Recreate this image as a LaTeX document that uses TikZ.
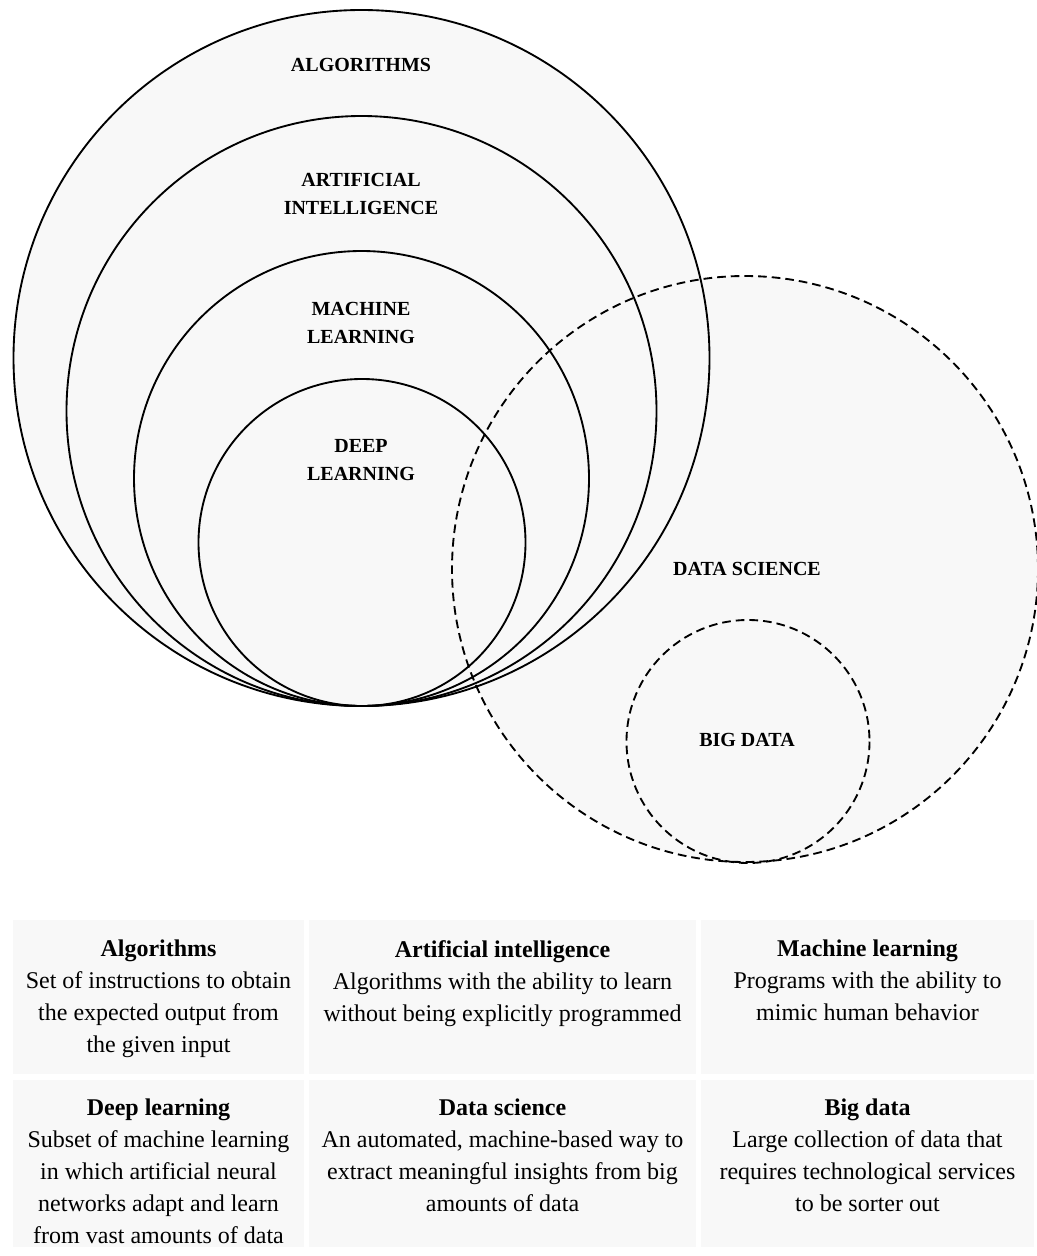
\documentclass[tikz,border=0pt]{standalone}
\usepackage{fontspec}
\setmainfont{Liberation Serif}
\usetikzlibrary{positioning}

\definecolor{pale}{HTML}{F8F8F8}

\begin{document}
\begin{tikzpicture}[
    x=0.75pt,y=-0.75pt,
    ring/.style={draw,line width=1.4pt},
    dashring/.style={draw,line width=1.4pt,dash pattern=on 6.5pt off 3.75pt},
    tag/.style={font=\bfseries\fontsize{15}{21}\selectfont,align=center},
    cell/.style={fill=pale},
    celltext/.style={anchor=north,align=center,inner sep=0pt,font=\fontsize{18}{24}\selectfont}
]
    \useasboundingbox (0,0) rectangle (1037,1256);

    % Fills first
    \fill[pale] (361.5,358) circle [radius=348];
    \fill[pale] (745,569) circle [radius=293];

    % Nested circles
    \draw[ring] (361.5,358) circle [radius=348];
    \draw[ring] (361.5,411) circle [radius=295];
    \draw[ring] (361.5,478.5) circle [radius=227.5];
    \draw[ring] (362,542.5) circle [radius=163.5];

    % Data science circles
    \draw[dashring] (745,569) circle [radius=293];
    \draw[dashring] (748,741.5) circle [radius=121.5];

    % Circle labels
    \node[tag] (alg) at (361,65) {ALGORITHMS};
    \node[tag] (ai) at (361,194) {ARTIFICIAL\\INTELLIGENCE};
    \node[tag] (ml) at (361,323) {MACHINE\\LEARNING};
    \node[tag] (dl) at (361,460) {DEEP\\LEARNING};
    \node[tag] (ds) at (747,569) {DATA SCIENCE};
    \node[tag] (bd) at (747,740) {BIG DATA};

    % Table of definitions
    \fill[cell] (13,920) rectangle (304,1074);
    \fill[cell] (309,920) rectangle (696,1074);
    \fill[cell] (701,920) rectangle (1034,1074);
    \fill[cell] (13,1080) rectangle (304,1247);
    \fill[cell] (309,1080) rectangle (696,1247);
    \fill[cell] (701,1080) rectangle (1034,1247);

    \node[celltext] (talg) at (158.5,940) {\textbf{Algorithms}\\Set of instructions to obtain\\the expected output from\\the given input};
    \node[celltext] (tai) at (502.5,940) {\textbf{Artificial intelligence}\\Algorithms with the ability to learn\\without being explicitly programmed};
    \node[celltext] (tml) at (867.5,940) {\textbf{Machine learning}\\Programs with the ability to\\mimic human behavior};
    \node[celltext] (tdl) at (158.5,1099) {\textbf{Deep learning}\\Subset of machine learning\\in which artificial neural\\networks adapt and learn\\from vast amounts of data};
    \node[celltext] (tds) at (502.5,1099) {\textbf{Data science}\\An automated, machine-based way to\\extract meaningful insights from big\\amounts of data};
    \node[celltext] (tbd) at (867.5,1099) {\textbf{Big data}\\Large collection of data that\\requires technological services\\to be sorter out};
\end{tikzpicture}
\end{document}
